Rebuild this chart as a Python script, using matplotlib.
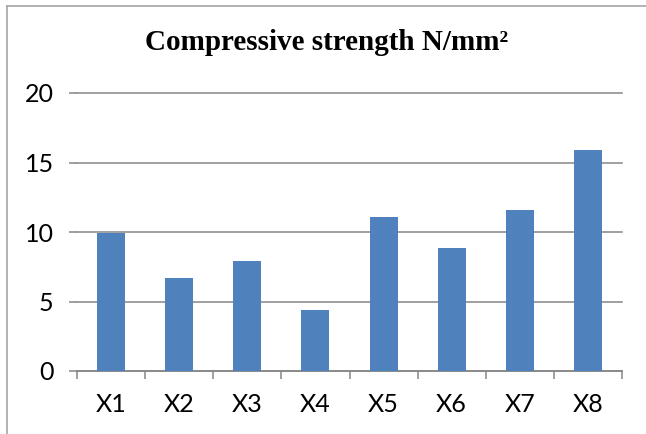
import numpy as np
import matplotlib.pyplot as plt
from matplotlib.lines import Line2D

categories = ['X1', 'X2', 'X3', 'X4', 'X5', 'X6', 'X7', 'X8']
strength = [9.9, 6.7, 7.9, 4.4, 11.1, 8.85, 11.6, 15.9]
y_ticks = [0, 5, 10, 15, 20]

W, H = 646, 434
fig = plt.figure(figsize=(W / 100, H / 100), dpi=100)
ax = fig.add_axes([77 / W, 1 - 371 / H, (622 - 77) / W, (371 - 93) / H])

x = np.arange(len(categories))
ax.bar(x, strength, width=0.41, color='#4F81BD', zorder=3)

ax.set_xlim(-0.5, len(categories) - 0.5)
ax.set_ylim(0, 20)
ax.set_yticks(y_ticks)
ax.yaxis.grid(True, color='#868686', linewidth=1.1, zorder=0)
for gl in ax.get_ygridlines():
    gl.set_clip_on(False)

ax.set_xticks(x)
ax.set_xticklabels(categories)
ax.set_xticks(np.arange(len(categories) + 1) - 0.5, minor=True)
ax.tick_params(axis='x', which='major', length=0, pad=16)
ax.tick_params(axis='x', which='minor', length=5.5, color='#868686', width=1.1)
ax.tick_params(axis='y', length=5.8, color='#868686', width=1.1, pad=11)

for lab in ax.get_xticklabels() + ax.get_yticklabels():
    lab.set_fontfamily('Lato')
    lab.set_fontsize(18)

for side in ['left', 'right', 'top']:
    ax.spines[side].set_visible(False)
ax.spines['bottom'].set_color('#868686')
ax.spines['bottom'].set_linewidth(1.1)

fig.text(327 / W, 1 - 43 / H, 'Compressive strength N/mm²', ha='center', va='center',
         fontfamily='Liberation Serif', fontweight='bold', fontsize=21)

# chart frame (only left and top edges visible in the crop)
fig.add_artist(Line2D([7 / W, 7 / W], [0, 1 - 6 / H], color='#a6a6a6', linewidth=1.2))
fig.add_artist(Line2D([7 / W, 1], [1 - 6 / H, 1 - 6 / H], color='#a6a6a6', linewidth=1.2))

fig.savefig('out.png', dpi=100)
